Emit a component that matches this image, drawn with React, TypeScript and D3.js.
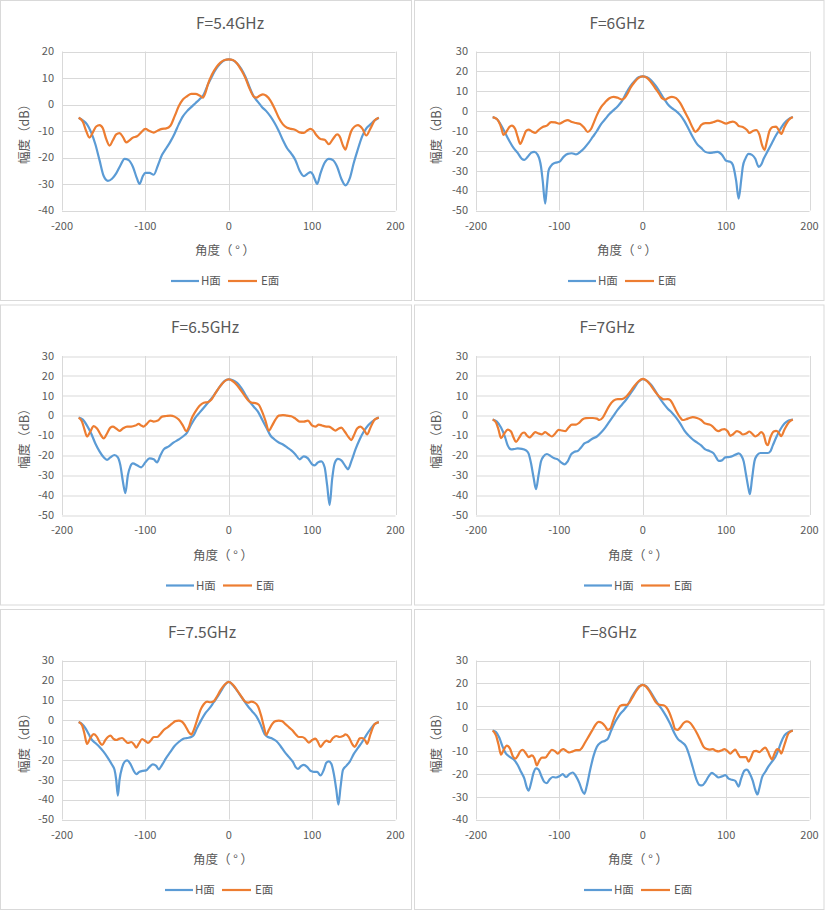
import * as d3 from "d3";

type Pt = [number, number];

const W = 825;
const H = 911;

const titles = ["F=5.4GHz", "F=6GHz", "F=6.5GHz", "F=7GHz", "F=7.5GHz", "F=8GHz"];
const yDomains: [number, number][] = [
  [-40, 20],
  [-50, 30],
  [-50, 30],
  [-50, 30],
  [-50, 30],
  [-40, 30],
];
const xTicks = [-200, -100, 0, 100, 200];
const seriesNames = ["H面", "E面"];

// 5.4 GHz
const h54: Pt[] = [
  [-180, -5], [-175, -6], [-170, -7.5], [-165, -10.5], [-160, -15], [-155, -21], [-150, -27],
  [-145, -28.8], [-140, -28], [-135, -26], [-130, -23], [-125, -20.5], [-120, -21], [-115, -23.5],
  [-110, -28], [-107, -30], [-103, -27], [-100, -25.8], [-95, -25.8], [-90, -26.5], [-85, -23],
  [-80, -19], [-75, -16.5], [-70, -14], [-65, -11], [-60, -7.5], [-55, -4.5], [-50, -2.5],
  [-45, -1], [-40, 0.5], [-35, 2], [-30, 3.8], [-25, 7.5], [-20, 10.7], [-15, 13.5], [-10, 15.5],
  [-5, 16.7], [0, 17], [5, 16.7], [10, 15.5], [15, 13.5], [20, 10.5], [25, 6.5], [30, 3],
  [35, 1], [40, -1], [45, -2.5], [50, -4.5], [55, -7], [60, -10], [65, -13.5], [70, -16.5],
  [75, -18.5], [80, -21], [85, -25], [90, -27], [95, -26], [98, -25.5], [101, -26.5], [103, -28],
  [106, -30], [110, -26], [115, -22], [120, -20.5], [125, -21], [130, -23.5], [135, -28],
  [140, -30.5], [145, -28], [150, -22], [154, -17.8], [160, -12], [165, -9], [170, -7.5],
  [175, -6], [180, -5],
];
const e54: Pt[] = [
  [-180, -5], [-175, -6.5], [-171, -10], [-167, -12.5], [-163, -10.5], [-159, -8.3], [-155, -7.8],
  [-151, -9], [-147, -13], [-143, -15.5], [-139, -13.5], [-135, -11.3], [-131, -10.8], [-127, -12.2],
  [-123, -14.3], [-119, -13.5], [-115, -12.5], [-110, -12], [-105, -10.5], [-100, -9.2], [-95, -10],
  [-90, -10.6], [-85, -9.8], [-80, -9.2], [-75, -9], [-70, -8], [-65, -4.5], [-60, -0.7],
  [-55, 1.9], [-50, 3.1], [-45, 4], [-40, 4], [-35, 3.4], [-31, 2.6], [-28, 4.4], [-25, 7.6],
  [-20, 11.4], [-15, 14], [-10, 15.8], [-5, 16.8], [0, 17], [5, 16.8], [10, 15.5], [15, 13],
  [20, 10], [25, 6], [30, 3], [33, 2.6], [37, 3.3], [41, 3.8], [45, 3.3], [50, 1.5], [55, -1.5],
  [60, -5], [65, -7.5], [70, -8.8], [75, -9.2], [80, -9.6], [85, -10.5], [90, -10.7], [95, -9.6],
  [98, -9.2], [101, -9.7], [105, -11.5], [110, -13], [115, -13.3], [120, -15], [125, -13],
  [130, -11.3], [133, -12], [137, -15.5], [140, -17], [143, -14], [147, -10], [151, -8.3],
  [155, -7.8], [160, -9], [165, -11.7], [170, -9], [175, -6], [180, -5],
];

// 6 GHz
const h60: Pt[] = [
  [-180, -3], [-175, -4], [-170, -7], [-165, -11], [-160, -15], [-155, -18.5], [-150, -21],
  [-145, -24], [-142, -24.5], [-138, -23], [-134, -21], [-130, -20.5], [-126, -22], [-122, -28],
  [-120, -35], [-117, -46.5], [-115, -38], [-113, -30], [-110, -27.5], [-105, -26], [-100, -25.5],
  [-95, -23], [-90, -21.5], [-85, -21.2], [-80, -21.8], [-75, -20.5], [-70, -18.5], [-65, -16],
  [-60, -13], [-55, -10], [-50, -6.5], [-45, -4], [-40, -1.5], [-35, 0.5], [-30, 2.5], [-25, 5],
  [-20, 9], [-15, 12.5], [-10, 15], [-5, 17], [0, 17.5], [5, 17], [10, 15.5], [15, 13], [20, 10],
  [25, 6.5], [30, 3.5], [35, 1.5], [40, 0], [45, -2], [50, -5], [55, -9], [60, -13], [65, -16.5],
  [70, -18.5], [75, -20.5], [80, -21], [85, -20.8], [90, -20.5], [95, -22], [100, -25], [105, -25.5],
  [108, -27], [112, -35], [115, -44], [118, -35], [120, -28], [123, -24], [127, -21.5], [131, -22],
  [135, -24], [139, -28], [142, -27], [145, -24], [150, -20], [155, -16], [160, -12], [165, -9],
  [170, -6], [175, -4], [180, -3],
];
const e60: Pt[] = [
  [-180, -3], [-175, -4], [-170, -8], [-167, -12], [-163, -10], [-160, -8], [-157, -7.3], [-153, -9],
  [-150, -13], [-147, -16.5], [-143, -13], [-140, -10], [-137, -9.3], [-133, -10.2], [-129, -11],
  [-125, -9.5], [-120, -8], [-115, -7.3], [-110, -5.5], [-105, -5.7], [-100, -6.3], [-95, -5.3],
  [-90, -4.5], [-85, -5.5], [-80, -6], [-75, -6.5], [-70, -8.5], [-66, -10.5], [-62, -9], [-58, -5],
  [-55, -2], [-50, 2], [-45, 4.5], [-40, 6.5], [-35, 7.2], [-30, 6.7], [-25, 5.8], [-22, 6.5],
  [-18, 9], [-15, 11.5], [-10, 14.5], [-5, 16.7], [0, 17.5], [5, 16.8], [10, 14.5], [15, 11.5],
  [20, 8.5], [23, 6.5], [27, 5.8], [30, 6.5], [35, 7.2], [40, 6.5], [45, 4], [50, 0], [55, -4],
  [60, -8.5], [63, -10.5], [67, -9], [70, -7], [75, -6], [80, -6], [85, -5.5], [90, -4.8],
  [95, -5.5], [100, -6.3], [105, -5.5], [108, -5.3], [112, -6], [115, -7.5], [120, -8], [125, -9.5],
  [128, -11], [132, -10], [136, -9.5], [140, -12], [143, -17], [146, -19.5], [149, -15], [152, -10],
  [156, -8], [160, -7.8], [163, -9.5], [166, -11.5], [170, -8], [175, -4.5], [180, -3],
];

// 6.5 GHz
const h65: Pt[] = [
  [-180, -1], [-175, -2], [-170, -5], [-165, -9], [-160, -14], [-155, -18], [-150, -21],
  [-146, -22.3], [-142, -21], [-137, -19.8], [-133, -21], [-130, -25], [-127, -33], [-124, -39],
  [-121, -30], [-118, -25.5], [-115, -24], [-110, -25], [-105, -26], [-100, -23.5], [-95, -21.5],
  [-90, -22], [-86, -23.5], [-82, -20], [-78, -17], [-72, -15.5], [-66, -13.5], [-60, -12],
  [-55, -10.5], [-50, -8.5], [-45, -4.5], [-40, -1], [-35, 1.5], [-30, 4], [-25, 6.5], [-20, 9],
  [-15, 12], [-10, 15], [-5, 17.5], [0, 18.2], [5, 17.8], [10, 16.5], [15, 14], [20, 10.5],
  [25, 7], [30, 4.5], [35, 2], [40, -2], [45, -6], [50, -10], [55, -12], [60, -13.5], [65, -14.5],
  [70, -16], [75, -17.5], [80, -19.5], [85, -22], [90, -20.5], [95, -21.5], [100, -24.5],
  [103, -25], [107, -23.5], [111, -23], [115, -26], [118, -35], [121, -45], [124, -32], [127, -24],
  [131, -21.8], [135, -22.5], [140, -25.5], [143, -27], [147, -23], [152, -17], [157, -12],
  [162, -8], [167, -5], [172, -3], [177, -1.5], [180, -1],
];
const e65: Pt[] = [
  [-180, -1], [-176, -3], [-173, -7], [-170, -10.5], [-166, -8], [-162, -5.3], [-158, -6.5],
  [-153, -10], [-150, -11.5], [-146, -9], [-142, -6], [-139, -5.5], [-135, -6.5], [-131, -7.7],
  [-127, -6.5], [-122, -5.5], [-117, -5.5], [-112, -5], [-108, -4.2], [-105, -5], [-102, -5.5],
  [-98, -4], [-94, -2.5], [-90, -3], [-85, -2.5], [-80, -0.5], [-75, -0.2], [-70, 0], [-65, -0.5],
  [-60, -2], [-55, -5], [-51, -7.8], [-48, -6], [-45, -2], [-40, 2], [-35, 5], [-30, 6.5],
  [-25, 6.8], [-21, 8], [-15, 12], [-10, 15], [-5, 17.3], [0, 18.3], [5, 17.3], [10, 15.3],
  [15, 12.5], [20, 9.5], [25, 7], [28, 6.5], [32, 6.3], [36, 5.5], [40, 2], [44, -2.5], [48, -7.5],
  [52, -5], [56, -2], [60, 0], [65, 0.3], [70, 0], [75, -0.3], [80, -1.5], [85, -3], [90, -3],
  [95, -2.5], [100, -5], [104, -5.5], [108, -4.5], [112, -5], [117, -5.5], [120, -5.5], [124, -6.5],
  [128, -7.5], [132, -6.5], [135, -6], [139, -8], [144, -11], [147, -12.3], [150, -10], [154, -6.5],
  [158, -5.5], [162, -7], [166, -9.5], [170, -6], [175, -2], [180, -1],
];

// 7 GHz
const h70: Pt[] = [
  [-180, -2], [-175, -3], [-170, -6], [-165, -11], [-162, -15], [-158, -17], [-154, -16.8],
  [-150, -16.5], [-145, -16.7], [-140, -17.5], [-137, -19], [-134, -24], [-131, -31], [-128, -37],
  [-125, -30], [-122, -23], [-119, -20.5], [-115, -19.3], [-110, -20.5], [-106, -21.5], [-102, -22],
  [-98, -23.5], [-94, -24.5], [-90, -23], [-86, -19.5], [-82, -18.2], [-78, -17.8], [-74, -16],
  [-70, -14], [-65, -13], [-60, -11.5], [-55, -10.5], [-50, -8.5], [-45, -6], [-40, -3], [-35, 0],
  [-30, 3], [-25, 5.5], [-20, 8], [-15, 11], [-10, 14], [-5, 17], [0, 18.3], [5, 17.5], [10, 15.5],
  [15, 12.5], [20, 9], [25, 6], [30, 3.5], [35, 1.5], [40, -1], [45, -4], [50, -7.5], [55, -10],
  [60, -12], [65, -13.5], [70, -15], [75, -17], [80, -17.8], [85, -19], [88, -21], [91, -22.8],
  [95, -22.5], [99, -21], [104, -20.8], [108, -20.3], [112, -19.5], [115, -19], [118, -20],
  [121, -23], [124, -30], [127, -37], [128.5, -39.5], [131, -32], [134, -23], [137, -20],
  [141, -18.8], [145, -18.8], [150, -18.8], [153, -18], [156, -15], [160, -11], [165, -7],
  [170, -4], [175, -2.5], [180, -2],
];
const e70: Pt[] = [
  [-180, -2], [-176, -3.5], [-173, -7], [-170, -11.3], [-166, -9], [-162, -7], [-158, -8],
  [-155, -11], [-152, -13.2], [-148, -11], [-145, -9], [-142, -8.5], [-139, -10], [-136, -11],
  [-132, -9.5], [-129, -8.3], [-125, -9], [-121, -9.4], [-117, -8.3], [-113, -9.5], [-109, -10.5],
  [-105, -9], [-101, -7.2], [-97, -7.5], [-93, -7.8], [-89, -6], [-85, -4.5], [-80, -4.5],
  [-76, -3.5], [-72, -1.8], [-68, -1.3], [-64, -1.2], [-60, -1.2], [-55, -1.5], [-52, -2.2],
  [-48, -1], [-44, 2], [-40, 5], [-35, 7.5], [-30, 8.3], [-25, 8.3], [-20, 9.5], [-15, 12],
  [-10, 15], [-5, 17.3], [0, 18.5], [5, 17.5], [10, 15], [15, 12], [20, 9.5], [25, 8.2], [30, 8.3],
  [33, 7.8], [37, 5], [40, 2.5], [45, -1], [48, -2.2], [52, -1.8], [56, -1.2], [60, -0.8],
  [65, -1.2], [70, -2.2], [75, -4], [80, -4.5], [84, -5.5], [88, -7.3], [91, -7.8], [95, -7],
  [98, -6.8], [102, -8], [105, -10.2], [108, -9.5], [113, -7.8], [117, -8.5], [120, -9.5],
  [124, -9], [128, -8], [131, -9], [135, -10.5], [139, -9.5], [142, -8.3], [145, -9.5], [148, -14],
  [150, -14.8], [153, -11], [157, -8], [160, -7.7], [163, -8.5], [166, -10.3], [170, -7],
  [175, -3.5], [180, -2],
];

// 7.5 GHz
const h75: Pt[] = [
  [-180, -1], [-176, -2], [-172, -4], [-168, -7], [-164, -10], [-160, -11.5], [-155, -13.5],
  [-150, -16], [-145, -19], [-140, -22.5], [-137, -25], [-135, -30], [-133, -38], [-131, -30],
  [-128, -24], [-125, -21], [-122, -20.3], [-118, -22], [-114, -25.5], [-111, -27.2], [-107, -26],
  [-103, -25.5], [-99, -25.3], [-95, -23.5], [-91, -22.3], [-87, -23], [-84, -24.8], [-80, -22.5],
  [-75, -19], [-70, -16], [-65, -13], [-60, -11], [-55, -9.5], [-50, -9], [-45, -8.5], [-42, -7.5],
  [-38, -4], [-33, 0], [-28, 3.5], [-23, 6], [-18, 9], [-13, 12], [-8, 15.5], [-4, 18], [0, 19.2],
  [4, 18], [8, 16], [13, 13], [18, 10], [23, 7], [28, 4.5], [33, 2], [38, -2], [43, -7], [47, -8.5],
  [52, -9.2], [57, -10.5], [62, -13], [67, -16], [72, -18.5], [77, -21], [80, -23.5], [83, -24.5],
  [87, -23], [90, -22.5], [94, -23.5], [98, -25.5], [102, -26], [106, -26], [110, -27.8], [114, -25],
  [117, -21.5], [120, -20.8], [123, -22], [126, -27], [129, -35], [131.5, -42.5], [134, -34],
  [137, -25], [141, -23], [145, -21], [150, -17], [155, -14], [160, -11], [165, -7.5], [170, -4.5],
  [175, -2], [180, -1],
];
const e75: Pt[] = [
  [-180, -1], [-176, -2.5], [-173, -7], [-170, -12], [-166, -9], [-162, -7], [-158, -8.5],
  [-155, -11], [-152, -12.5], [-148, -10], [-145, -8.5], [-142, -7.8], [-138, -9.5], [-135, -10],
  [-131, -9.3], [-128, -9], [-124, -10.5], [-121, -11.5], [-117, -11], [-114, -12], [-111, -13.8],
  [-108, -12], [-104, -9.5], [-100, -10.5], [-97, -11.5], [-93, -10], [-90, -8.5], [-86, -8.5],
  [-83, -7.5], [-78, -5], [-73, -3.5], [-68, -1.8], [-64, -0.5], [-60, -0.3], [-56, -0.8],
  [-52, -3], [-48, -6], [-45, -7.3], [-42, -5], [-38, 0], [-34, 5], [-30, 8], [-26, 9.3],
  [-22, 9], [-18, 9.5], [-14, 12], [-10, 15], [-5, 17.8], [0, 19.2], [5, 17.8], [10, 15], [15, 12],
  [19, 9.5], [23, 8.8], [27, 9.3], [31, 8.8], [35, 7], [39, 2], [42, -3], [45, -7.5], [48, -5],
  [52, -2], [56, -0.5], [60, -0.3], [64, -0.5], [68, -2], [72, -3.5], [76, -5], [80, -7], [84, -8.5],
  [88, -8.5], [92, -9.5], [96, -11.3], [100, -10], [104, -9.3], [107, -11], [110, -13.5], [113, -12],
  [117, -10.3], [121, -11], [125, -9], [129, -8], [133, -8.5], [137, -8], [140, -7.2], [144, -8.5],
  [148, -12], [151, -13.5], [154, -11.5], [157, -9.2], [160, -9], [164, -10.5], [166, -12],
  [170, -7], [175, -2], [180, -1],
];

// 8 GHz
const h80: Pt[] = [
  [-180, -0.8], [-176, -1.5], [-172, -4], [-168, -8], [-164, -11], [-160, -12.3], [-155, -13.5],
  [-150, -16], [-146, -19], [-142, -22], [-139, -26], [-137, -27.3], [-134, -24], [-131, -19.5],
  [-128, -17.5], [-125, -18], [-122, -20.5], [-118, -23.5], [-115, -24], [-112, -22.5], [-108, -21.3],
  [-104, -21.5], [-100, -21], [-96, -20], [-92, -21.3], [-88, -20], [-84, -19.3], [-80, -21],
  [-76, -24], [-73, -27], [-70, -28.7], [-67, -25], [-63, -18], [-59, -12], [-55, -8], [-50, -6],
  [-45, -5.3], [-42, -4.5], [-38, -1], [-33, 3], [-28, 6], [-22, 8.5], [-18, 10.5], [-13, 14],
  [-8, 17], [-4, 18.7], [0, 19.3], [4, 18.7], [8, 17], [13, 14], [18, 11], [23, 8.5], [28, 5.5],
  [33, 2], [38, -2], [42, -4.5], [47, -6], [52, -8], [56, -12], [60, -17], [64, -22], [68, -24.8],
  [71, -25], [75, -23.5], [79, -21], [83, -19.5], [87, -20.5], [91, -21.5], [95, -21], [99, -20.5],
  [103, -22], [107, -22.5], [111, -23], [115, -25.5], [118, -22], [122, -18.5], [125, -18],
  [128, -19.5], [132, -23], [135, -27], [137.5, -29], [140, -26], [143, -21.5], [147, -19],
  [151, -16.5], [155, -14.5], [159, -12.5], [162, -10], [166, -6], [170, -3], [175, -1.5], [180, -0.8],
];
const e80: Pt[] = [
  [-180, -0.8], [-176, -3], [-173, -7], [-170, -11.5], [-167, -9.5], [-163, -7.5], [-159, -9],
  [-156, -12], [-153, -13.2], [-150, -12], [-147, -10], [-144, -9.3], [-140, -11], [-137, -12.5],
  [-133, -11.8], [-130, -13], [-127, -16.2], [-124, -14], [-121, -12.8], [-117, -12.8], [-113, -11],
  [-109, -9.3], [-105, -10], [-102, -11], [-98, -9.5], [-95, -9], [-91, -10], [-88, -10.5],
  [-84, -10], [-80, -9.5], [-76, -9.5], [-73, -8.5], [-69, -6], [-65, -3.5], [-61, -1], [-57, 1.5],
  [-53, 3], [-49, 2.5], [-45, 1], [-42, -0.5], [-39, 0], [-35, 4], [-31, 7.5], [-27, 10],
  [-23, 10.5], [-19, 10.5], [-16, 11.5], [-12, 14], [-8, 16.5], [-4, 18.5], [0, 19.3], [4, 18.5],
  [8, 16.5], [12, 14], [16, 11.5], [20, 10.5], [25, 10.3], [28, 9.5], [32, 7], [36, 3], [39, -0.3],
  [42, -0.5], [45, 0.5], [49, 2.5], [53, 3.2], [57, 2.5], [61, 0.5], [65, -2], [69, -5], [73, -8],
  [77, -9], [80, -9.2], [84, -9], [88, -9.8], [91, -10], [95, -9.5], [98, -9], [102, -10], [105, -11],
  [108, -10], [111, -9.2], [114, -11], [117, -12.5], [120, -12.5], [124, -12.5], [127, -14.5],
  [130, -12.5], [133, -10], [136, -9.8], [140, -10.3], [144, -9], [147, -8.3], [150, -10],
  [153, -12.5], [155, -13.5], [158, -11], [161, -9], [164, -9.5], [166, -11], [170, -7], [175, -2],
  [180, -0.8],
];

const hSeries = [h54, h60, h65, h70, h75, h80];
const eSeries = [e54, e60, e65, e70, e75, e80];

// hand placed bits (Excel put them slightly off center)
const titleXs = [230, 203, 205, 193, 202, 195];
const xTitleXs = [225, 213, 223, 224, 223, 224];
const legendXs = [171, 154, 166, 170, 165, 170];

const colOx = [0, 414];
const rowOy = [0, 304.5, 609];
const blue = "#5b9bd5";
const orange = "#ed7d31";
const grid = "#d9d9d9";
const textCol = "#595959";
const font = "'Noto Sans CJK SC', 'Noto Sans', sans-serif";

const Panel = ({ i }: { i: number }) => {
  const col = i % 2;
  const row = Math.floor(i / 2);
  const ox = colOx[col];
  const oy = rowOy[row];
  const left = 62;
  const right = 395.5;
  const top = 51.5;
  const bottom = 210.5;

  const x = d3.scaleLinear().domain([-200, 200]).range([left, right]);
  const y = d3.scaleLinear().domain(yDomains[i]).range([bottom, top]);
  const yTicks = d3.range(yDomains[i][0], yDomains[i][1] + 1, 10);

  const line = d3
    .line<Pt>()
    .x((d) => x(d[0]))
    .y((d) => y(d[1]))
    .curve(d3.curveMonotoneX);

  const lx = legendXs[i];
  const ly = 281;

  return (
    <g transform={`translate(${ox},${oy})`}>
      <rect
        x={0.5}
        y={0.5}
        width={col === 0 ? 411 : 409.5}
        height={300}
        fill="#fff"
        stroke={grid}
      />
      <text
        x={titleXs[i]}
        y={28.5}
        textAnchor="middle"
        fontSize={15.5}
        fill={textCol}
        fontFamily={font}
      >
        {titles[i]}
      </text>
      {yTicks.map((t) => (
        <line
          key={"h" + t}
          x1={left}
          x2={right}
          y1={Math.round(y(t)) + 0.5}
          y2={Math.round(y(t)) + 0.5}
          stroke={grid}
        />
      ))}
      {xTicks.map((t) => (
        <line
          key={"v" + t}
          x1={Math.round(x(t)) + 0.5}
          x2={Math.round(x(t)) + 0.5}
          y1={top}
          y2={bottom}
          stroke={grid}
        />
      ))}
      {yTicks.map((t) => (
        <text
          key={"yl" + t}
          x={left - 8}
          y={y(t)}
          dy="0.35em"
          textAnchor="end"
          fontSize={11}
          fill={textCol}
          fontFamily={font}
        >
          {t}
        </text>
      ))}
      {xTicks.map((t) => (
        <text
          key={"xl" + t}
          x={x(t)}
          y={bottom + 19}
          textAnchor="middle"
          fontSize={11}
          fill={textCol}
          fontFamily={font}
        >
          {t}
        </text>
      ))}
      <text
        x={xTitleXs[i]}
        y={255}
        textAnchor="middle"
        fontSize={12.5}
        fill={textCol}
        fontFamily={font}
        style={{ whiteSpace: "pre" }}
      >
        {"角度（ ° ）"}
      </text>
      <text
        transform={`translate(${col === 0 ? 25 : 23},${(top + bottom) / 2}) rotate(-90)`}
        dy="0.35em"
        textAnchor="middle"
        fontSize={12.5}
        fill={textCol}
        fontFamily={font}
      >
        幅度（dB）
      </text>
      <path d={line(hSeries[i]) ?? ""} fill="none" stroke={blue} strokeWidth={2.2} />
      <path d={line(eSeries[i]) ?? ""} fill="none" stroke={orange} strokeWidth={2.2} />

      <line x1={lx} x2={lx + 28} y1={ly} y2={ly} stroke={blue} strokeWidth={2.2} />
      <text x={lx + 30} y={ly} dy="0.35em" fontSize={11.5} fill={textCol} fontFamily={font}>
        {seriesNames[0]}
      </text>
      <line x1={lx + 57} x2={lx + 86} y1={ly} y2={ly} stroke={orange} strokeWidth={2.2} />
      <text x={lx + 90} y={ly} dy="0.35em" fontSize={11.5} fill={textCol} fontFamily={font}>
        {seriesNames[1]}
      </text>
    </g>
  );
};

export default function App() {
  return (
    <svg
      width={W}
      height={H}
      style={{ position: "absolute", left: 0, top: 0, display: "block", background: "#fff" }}
    >
      {titles.map((_, i) => (
        <Panel key={i} i={i} />
      ))}
    </svg>
  );
}
